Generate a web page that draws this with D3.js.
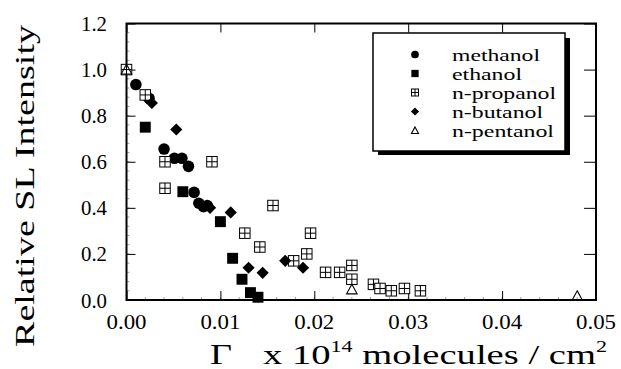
<!DOCTYPE html>
<html>
<head>
<meta charset="utf-8">
<script src="https://cdn.jsdelivr.net/npm/d3@7"></script>
<style>
  body { margin: 0; background: #fff; }
  svg text { font-family: "Liberation Serif", "Times New Roman", "DejaVu Serif Condensed", "DejaVu Serif", serif; fill: #000; }
</style>
</head>
<body>
<div id="chart"></div>
<script>
// data
var seriesNames = ["methanol", "ethanol", "n-propanol", "n-butanol", "n-pentanol"]

var methanolX = [0.001, 0.0024, 0.004, 0.0051, 0.0059, 0.0066, 0.0072, 0.0077, 0.0082, 0.0086]
var methanolY = [0.935, 0.875, 0.655, 0.615, 0.615, 0.58, 0.467, 0.42, 0.405, 0.41]

var ethanolX = [0.002, 0.006, 0.010, 0.0113, 0.0123, 0.0132, 0.014]
var ethanolY = [0.75, 0.47, 0.34, 0.181, 0.09, 0.032, 0.012]

var propanolX = [0, 0.002, 0.0041, 0.0041, 0.0091, 0.0126, 0.0142, 0.0156, 0.0178, 0.0192, 0.0196,
  0.0212, 0.0227, 0.024, 0.024, 0.0263, 0.027, 0.0282, 0.0296, 0.0313]
var propanolY = [1.0, 0.89, 0.6, 0.485, 0.6, 0.29, 0.23, 0.41, 0.17, 0.2, 0.29,
  0.12, 0.12, 0.15, 0.09, 0.068, 0.05, 0.04, 0.05, 0.04]

var butanolX = [0.0027, 0.0053, 0.0089, 0.0111, 0.013, 0.0145, 0.0169, 0.0188]
var butanolY = [0.855, 0.74, 0.40, 0.38, 0.14, 0.118, 0.17, 0.14]

var pentanolX = [0, 0.024, 0.048]
var pentanolY = [1.0, 0.046, 0.017]

var xTicks = [0, 0.01, 0.02, 0.03, 0.04, 0.05]
var yTicks = [0, 0.2, 0.4, 0.6, 0.8, 1.0, 1.2]

var width = 621
var height = 369
var plotLeft = 126.5, plotRight = 596, plotTop = 23.5, plotBottom = 300

var x = d3.scaleLinear().domain([0, 0.05]).range([plotLeft, plotRight])
var y = d3.scaleLinear().domain([0, 1.2]).range([plotBottom, plotTop])

var svg = d3.select("#chart")
  .append("svg")
  .attr("width", width)
  .attr("height", height)

// minor ticks (faint, dotted look along the axes)
var minorX = d3.range(0, 0.0501, 0.002)
var minorY = d3.range(0, 1.201, 0.04)
var minor = svg.append("g").attr("stroke", "#888").attr("stroke-width", 0.8)
minorX.forEach(function (v) {
  minor.append("line").attr("x1", x(v)).attr("x2", x(v)).attr("y1", plotBottom).attr("y2", plotBottom - 3)
})
minorY.forEach(function (v) {
  minor.append("line").attr("x1", plotLeft).attr("x2", plotLeft + 3).attr("y1", y(v)).attr("y2", y(v))
})

// major ticks on all four sides, pointing inward
svg.append("g")
  .attr("transform", "translate(0," + plotBottom + ")")
  .call(d3.axisBottom(x).tickValues(xTicks).tickSize(-9).tickFormat(""))
svg.append("g")
  .attr("transform", "translate(0," + plotTop + ")")
  .call(d3.axisTop(x).tickValues(xTicks).tickSize(-9).tickFormat(""))
svg.append("g")
  .attr("transform", "translate(" + plotLeft + ",0)")
  .call(d3.axisLeft(y).tickValues(yTicks).tickSize(-9).tickFormat(""))
svg.append("g")
  .attr("transform", "translate(" + plotRight + ",0)")
  .call(d3.axisRight(y).tickValues(yTicks).tickSize(-12).tickFormat(""))
svg.selectAll(".domain").remove()
svg.selectAll(".tick line").attr("stroke", "#000").attr("stroke-width", 1)

// frame
svg.append("rect")
  .attr("x", plotLeft).attr("y", plotTop)
  .attr("width", plotRight - plotLeft).attr("height", plotBottom - plotTop)
  .attr("fill", "none").attr("stroke", "#000").attr("stroke-width", 2)

// tick labels
svg.selectAll(".xlab")
  .data(xTicks)
  .enter()
  .append("text")
  .attr("x", function (d) { return x(d) - 20 })
  .attr("y", 329)
  .attr("font-size", 21)
  .attr("textLength", 40)
  .attr("lengthAdjust", "spacingAndGlyphs")
  .text(function (d) { return d3.format(".2f")(d) })

svg.selectAll(".ylab")
  .data(yTicks)
  .enter()
  .append("text")
  .attr("x", 81)
  .attr("y", function (d) { return y(d) + 7.5 })
  .attr("font-size", 21)
  .attr("textLength", 26)
  .attr("lengthAdjust", "spacingAndGlyphs")
  .text(function (d) { return d3.format(".1f")(d) })

// axis titles
svg.append("text")
  .attr("transform", "translate(34,186) rotate(-90)")
  .attr("text-anchor", "middle")
  .attr("font-size", 28)
  .attr("textLength", 322)
  .attr("lengthAdjust", "spacingAndGlyphs")
  .text("Relative SL Intensity")

svg.append("text")
  .attr("x", 210)
  .attr("y", 364)
  .attr("font-size", 29)
  .attr("textLength", 22)
  .attr("lengthAdjust", "spacingAndGlyphs")
  .text("Γ")

var xt = svg.append("text")
  .attr("x", 263)
  .attr("y", 364)
  .attr("font-size", 28)
  .attr("textLength", 344)
  .attr("lengthAdjust", "spacingAndGlyphs")
xt.append("tspan").text("x 10")
xt.append("tspan").attr("font-size", 16).attr("dy", -12).text("14")
xt.append("tspan").attr("dy", 12).text(" molecules / cm")
xt.append("tspan").attr("font-size", 16).attr("dy", -12).text("2")

// symbols
function drawSymbol(g, kind, cx, cy, s) {
  if (kind === 0) {
    g.append("circle").attr("cx", cx).attr("cy", cy).attr("r", s * 0.55).attr("fill", "#000")
  } else if (kind === 1) {
    g.append("rect").attr("x", cx - s * 0.52).attr("y", cy - s * 0.52)
      .attr("width", s * 1.04).attr("height", s * 1.04).attr("fill", "#000")
  } else if (kind === 2) {
    var h = s * 0.5
    g.append("rect").attr("x", cx - h).attr("y", cy - h).attr("width", 2 * h).attr("height", 2 * h)
      .attr("fill", "#fff").attr("stroke", "#000").attr("stroke-width", 1)
    g.append("line").attr("x1", cx - h).attr("x2", cx + h).attr("y1", cy).attr("y2", cy)
      .attr("stroke", "#000").attr("stroke-width", 1)
    g.append("line").attr("x1", cx).attr("x2", cx).attr("y1", cy - h).attr("y2", cy + h)
      .attr("stroke", "#000").attr("stroke-width", 1)
  } else if (kind === 3) {
    var d = s * 0.58
    g.append("path")
      .attr("d", "M" + cx + "," + (cy - d) + "L" + (cx + d) + "," + cy + "L" + cx + "," + (cy + d) + "L" + (cx - d) + "," + cy + "Z")
      .attr("fill", "#000")
  } else {
    var w = s * 0.5
    g.append("path")
      .attr("d", "M" + cx + "," + (cy - w) + "L" + (cx + w) + "," + (cy + w * 0.85) + "L" + (cx - w) + "," + (cy + w * 0.85) + "Z")
      .attr("fill", "none").attr("stroke", "#000").attr("stroke-width", 1.1)
  }
}

var allX = [methanolX, ethanolX, propanolX, butanolX, pentanolX]
var allY = [methanolY, ethanolY, propanolY, butanolY, pentanolY]

var points = svg.append("g")
allX.forEach(function (xs, k) {
  xs.forEach(function (v, i) {
    drawSymbol(points, k, x(v), y(allY[k][i]), 10.5)
  })
})

// legend with drop shadow
var legendWidths = [88, 70, 104, 91, 102]
var lg = svg.append("g")
lg.append("rect").attr("x", 378).attr("y", 38).attr("width", 192).attr("height", 117).attr("fill", "#000")
lg.append("rect").attr("x", 373).attr("y", 33).attr("width", 192).attr("height", 118)
  .attr("fill", "#fff").attr("stroke", "#000").attr("stroke-width", 1.5)

seriesNames.forEach(function (name, k) {
  var ry = 54.5 + k * 19
  drawSymbol(lg, k, 415, ry, 7)
  lg.append("text")
    .attr("x", 452)
    .attr("y", ry + 6)
    .attr("font-size", 17)
    .attr("textLength", legendWidths[k])
    .attr("lengthAdjust", "spacingAndGlyphs")
    .text(name)
})
</script>
</body>
</html>
